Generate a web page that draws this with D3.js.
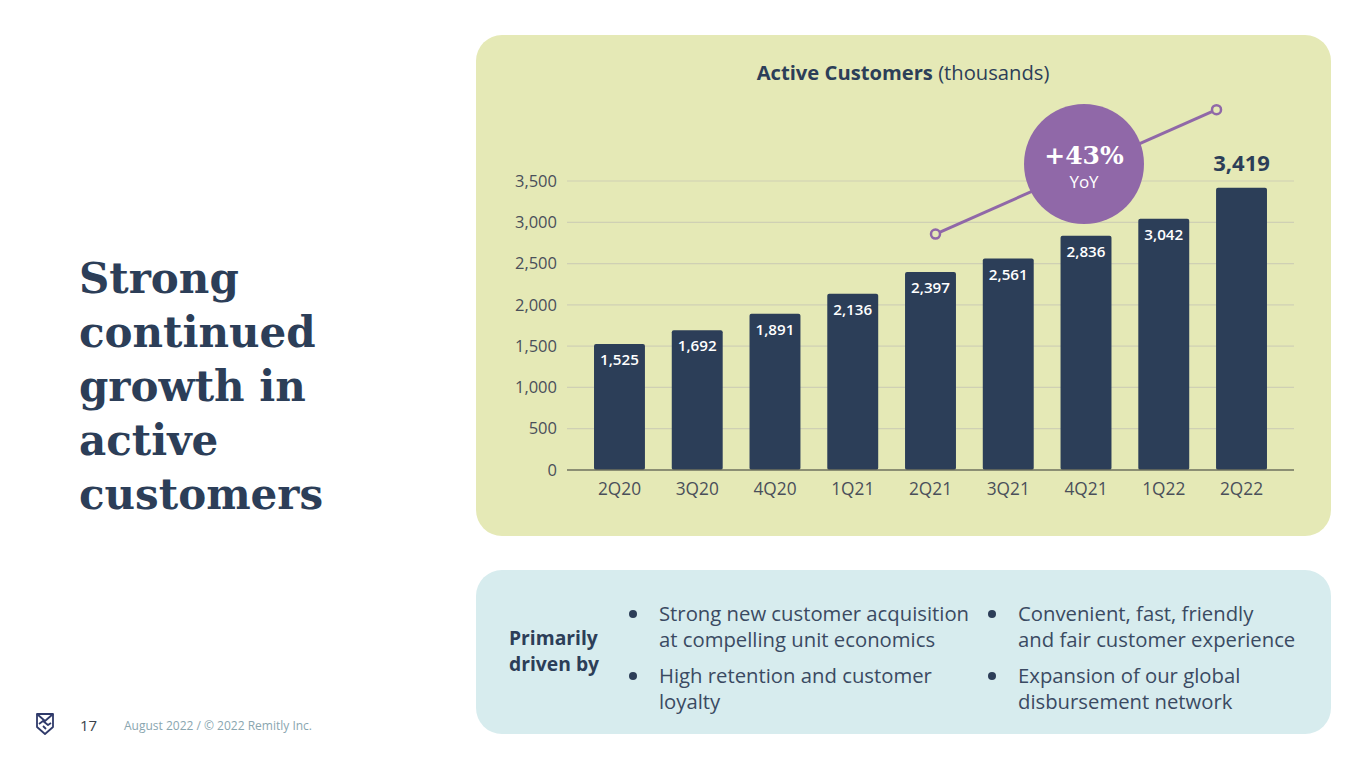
<!DOCTYPE html>
<html lang="en">
<head>
<meta charset="utf-8">
<title>Active Customers</title>
<script src="https://cdn.jsdelivr.net/npm/d3@7"></script>
<style>
  body { margin: 0; background: #fff; }
  svg { display: block; }
</style>
</head>
<body>
<div id="chart"></div>
<script>
"use strict";

// data
var quarters = ["2Q20", "3Q20", "4Q20", "1Q21", "2Q21", "3Q21", "4Q21", "1Q22", "2Q22"];
var customers = [1525, 1692, 1891, 2136, 2397, 2561, 2836, 3042, 3419];
var yTicks = [0, 500, 1000, 1500, 2000, 2500, 3000, 3500];
var titleLines = ["Strong", "continued", "growth in", "active", "customers"];
var bulletsLeft = [["Strong new customer acquisition", "at compelling unit economics"], ["High retention and customer", "loyalty"]];
var bulletsRight = [["Convenient, fast, friendly", "and fair customer experience"], ["Expansion of our global", "disbursement network"]];

var navy = "#2c3e58", purple = "#9068a8";
var sans = "'Open Sans', sans-serif";

var svg = d3.select("#chart").append("svg")
    .attr("width", 1365).attr("height", 768);

// left heading
svg.append("g").selectAll("text")
    .data(titleLines).enter().append("text")
    .attr("x", 79)
    .attr("y", (d, i) => 293 + i * 54)
    .attr("font-family", "'DejaVu Serif', Georgia, serif")
    .attr("font-weight", "bold")
    .attr("font-size", 42)
    .attr("fill", navy)
    .text(d => d);

// chart panel
svg.append("rect")
    .attr("x", 476).attr("y", 35).attr("width", 855).attr("height", 501)
    .attr("rx", 26).attr("fill", "#e5e9b6");

var title = svg.append("text")
    .attr("x", 903).attr("y", 80)
    .attr("text-anchor", "middle")
    .attr("font-family", sans).attr("font-size", 20.2).attr("fill", navy);
title.append("tspan").attr("font-weight", "bold").text("Active Customers");
title.append("tspan").text(" (thousands)");

var x = d3.scaleBand()
    .domain(quarters)
    .range([580.6, 1280.4])
    .paddingInner(0.345)
    .paddingOuter(0.1725);

var y = d3.scaleLinear()
    .domain([0, 3500])
    .range([470, 181]);

// gridlines
svg.append("g").selectAll("line")
    .data(yTicks.slice(1)).enter().append("line")
    .attr("x1", 567).attr("x2", 1294)
    .attr("y1", d => y(d)).attr("y2", d => y(d))
    .attr("stroke", "#cfd0b4").attr("stroke-width", 1.2);

// y axis labels
var yAxis = svg.append("g")
    .attr("transform", "translate(567,0)")
    .call(d3.axisLeft(y).tickValues(yTicks).tickFormat(d3.format(",")).tickSize(0).tickPadding(10));
yAxis.select(".domain").remove();
yAxis.selectAll("text")
    .attr("font-family", sans).attr("font-size", 16.5).attr("fill", "#4a4f5a");

// bars
svg.append("g").selectAll("rect")
    .data(customers).enter().append("rect")
    .attr("x", (d, i) => x(quarters[i]))
    .attr("y", d => y(d))
    .attr("width", x.bandwidth())
    .attr("height", d => y(0) - y(d))
    .attr("rx", 2)
    .attr("fill", navy);

// value labels inside bars (last one above)
var last = customers.length - 1;
svg.append("g").selectAll("text")
    .data(customers).enter().append("text")
    .attr("x", (d, i) => x(quarters[i]) + x.bandwidth() / 2)
    .attr("y", (d, i) => i === last ? y(d) - 17 : y(d) + 21)
    .attr("text-anchor", "middle")
    .attr("font-family", sans)
    .attr("font-weight", (d, i) => i === last ? "bold" : "600")
    .attr("font-size", (d, i) => i === last ? 22 : 15.2)
    .attr("fill", (d, i) => i === last ? navy : "#fff")
    .text(d => d3.format(",")(d));

// x axis
var xAxis = svg.append("g")
    .attr("transform", "translate(0," + y(0) + ")")
    .call(d3.axisBottom(x).tickSize(0).tickPadding(13));
xAxis.select(".domain").attr("d", "M567,0H1294").attr("stroke", "#6e705e").attr("stroke-width", 1.5);
xAxis.selectAll("text")
    .attr("font-family", sans).attr("font-size", 17.3).attr("fill", "#4a4f5a");

// YoY connector from 2Q21 to 2Q22
var p0 = [x("2Q21") + x.bandwidth() / 2 + 5, y(customers[4]) - 38];
var p1 = [x("2Q22") + x.bandwidth() / 2 - 25, y(customers[8]) - 78];
svg.append("line")
    .attr("x1", p0[0]).attr("y1", p0[1]).attr("x2", p1[0]).attr("y2", p1[1])
    .attr("stroke", purple).attr("stroke-width", 3);
svg.append("g").selectAll("circle")
    .data([p0, p1]).enter().append("circle")
    .attr("cx", d => d[0]).attr("cy", d => d[1]).attr("r", 4.5)
    .attr("fill", "#e5e9b6").attr("stroke", purple).attr("stroke-width", 2.5);

svg.append("circle")
    .attr("cx", 1084).attr("cy", 164).attr("r", 60)
    .attr("fill", purple);
svg.append("text")
    .attr("x", 1084).attr("y", 164)
    .attr("text-anchor", "middle")
    .attr("font-family", "'DejaVu Serif', Georgia, serif")
    .attr("font-weight", "bold").attr("font-size", 25).attr("fill", "#fff")
    .text("+43%");
svg.append("text")
    .attr("x", 1084).attr("y", 188)
    .attr("text-anchor", "middle")
    .attr("font-family", sans).attr("font-size", 17).attr("fill", "#fff")
    .text("YoY");

// drivers panel
svg.append("rect")
    .attr("x", 476).attr("y", 570).attr("width", 855).attr("height", 164)
    .attr("rx", 26).attr("fill", "#d7ecee");

svg.append("g").selectAll("text")
    .data(["Primarily", "driven by"]).enter().append("text")
    .attr("x", 509).attr("y", (d, i) => 645 + i * 26)
    .attr("font-family", sans).attr("font-weight", "bold").attr("font-size", 19.3)
    .attr("fill", navy)
    .text(d => d);

function bullets(items, bx) {
  var g = svg.append("g");
  items.forEach(function(lines, k) {
    var top = 621 + k * 62;
    g.append("circle").attr("cx", bx).attr("cy", top - 7).attr("r", 4).attr("fill", navy);
    lines.forEach(function(line, j) {
      g.append("text")
          .attr("x", bx + 26).attr("y", top + j * 26)
          .attr("font-family", sans).attr("font-size", 20.3).attr("fill", "#3a4a62")
          .text(line);
    });
  });
}
bullets(bulletsLeft, 633);
bullets(bulletsRight, 992);

// footer
var logo = svg.append("g").attr("transform", "translate(36,713)")
    .attr("fill", "none").attr("stroke", "#2f3a6a").attr("stroke-width", 1.8).attr("stroke-linejoin", "round");
logo.append("path").attr("d", "M1,1 H17 V14 L9,21 L1,14 Z");
logo.append("path").attr("d", "M1,1 L9,8 L17,1");
logo.append("path").attr("d", "M3,11 L7,8 L12,12 L15,10");
logo.append("path").attr("d", "M7,13 L10,16");
svg.append("text")
    .attr("x", 80).attr("y", 731)
    .attr("font-family", sans).attr("font-size", 15).attr("fill", "#3a3f4a")
    .text("17");
svg.append("text")
    .attr("x", 124).attr("y", 730)
    .attr("font-family", sans).attr("font-size", 12).attr("fill", "#8aa6b0")
    .text("August 2022 / © 2022 Remitly Inc.");
</script>
</body>
</html>
